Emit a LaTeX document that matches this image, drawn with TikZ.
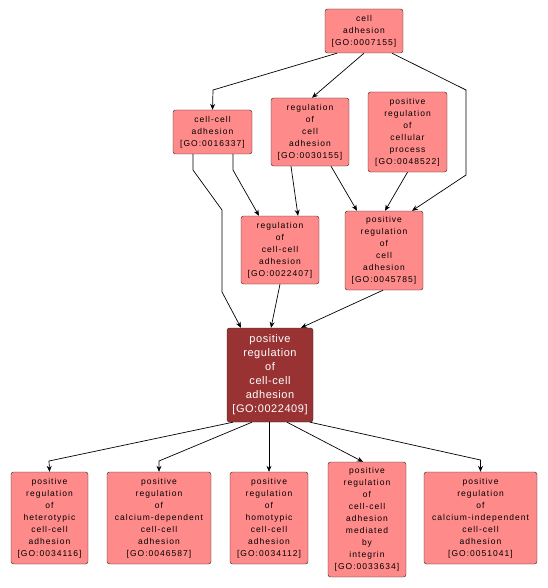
\documentclass[tikz,border=0pt]{standalone}
\usepackage{fontspec}
\usepackage{tikz}
\usetikzlibrary{arrows.meta}
\newfontfamily\gofont[LetterSpace=12]{Liberation Sans}
\newfontfamily\gomainfont[LetterSpace=5]{Liberation Sans}
\definecolor{goterm}{RGB}{255,138,138}
\definecolor{gofocus}{RGB}{153,51,51}
\tikzset{
  term/.style={draw=black!85,fill=goterm,rounded corners=2.5pt,align=center,inner sep=0pt,
    font=\gofont\fontsize{8.5}{12}\selectfont},
  focus/.style={term,fill=gofocus,text=white,font=\gomainfont\fontsize{11}{14}\selectfont},
  isa/.style={draw=black,line width=0.7pt,-{Stealth[length=6pt,width=5pt,inset=2pt]}}
}
\begin{document}
\begin{tikzpicture}[x=1pt,y=-1pt]
  \useasboundingbox (0,0) rectangle (547,588);
  % terms
  \node[term,minimum width=78pt,minimum height=44pt] (n7155) at (364,31) {cell\\adhesion\\{}[GO:0007155]};
  \node[term,minimum width=79pt,minimum height=44pt] (n16337) at (212.5,132) {cell-cell\\adhesion\\{}[GO:0016337]};
  \node[term,minimum width=78pt,minimum height=68pt] (n30155) at (310,132) {regulation\\of\\cell\\adhesion\\{}[GO:0030155]};
  \node[term,minimum width=79pt,minimum height=80pt] (n48522) at (407.5,132) {positive\\regulation\\of\\cellular\\process\\{}[GO:0048522]};
  \node[term,minimum width=78pt,minimum height=68pt] (n22407) at (280,250) {regulation\\of\\cell-cell\\adhesion\\{}[GO:0022407]};
  \node[term,minimum width=78pt,minimum height=79pt] (n45785) at (384,250.5) {positive\\regulation\\of\\cell\\adhesion\\{}[GO:0045785]};
  \node[focus,minimum width=86pt,minimum height=94pt] (n22409) at (270,375) {positive\\regulation\\of\\cell-cell\\adhesion\\{}[GO:0022409]};
  \node[term,minimum width=77pt,minimum height=92pt] (n34116) at (49.5,518) {positive\\regulation\\of\\heterotypic\\cell-cell\\adhesion\\{}[GO:0034116]};
  \node[term,minimum width=104pt,minimum height=92pt] (n46587) at (159,518) {positive\\regulation\\of\\calcium-dependent\\cell-cell\\adhesion\\{}[GO:0046587]};
  \node[term,minimum width=78pt,minimum height=92pt] (n34112) at (269,518) {positive\\regulation\\of\\homotypic\\cell-cell\\adhesion\\{}[GO:0034112]};
  \node[term,minimum width=78pt,minimum height=115pt] (n33634) at (367,519.5) {positive\\regulation\\of\\cell-cell\\adhesion\\mediated\\by\\integrin\\{}[GO:0033634]};
  \node[term,minimum width=113pt,minimum height=92pt] (n51041) at (480.5,518) {positive\\regulation\\of\\calcium-independent\\cell-cell\\adhesion\\{}[GO:0051041]};
  % bend points
  \coordinate (b1) at (213,90);
  \coordinate (b2) at (466,90);
  \coordinate (b3) at (466,175);
  \coordinate (b4) at (193,170);
  \coordinate (b5) at (222,210);
  \coordinate (b6) at (222,292);
  \coordinate (b7) at (233,170);
  \coordinate (b8) at (49,461);
  \coordinate (b9) at (159,461);
  \coordinate (b10) at (480.5,460);
  % edges
  \draw[isa] ([xshift=-27pt]n7155.south) -- (b1) -- (n16337.north);
  \draw[isa] (n7155.south) -- ([xshift=2pt]n30155.north);
  \draw[isa] ([xshift=28pt]n7155.south) -- (b2) -- (b3) -- ([xshift=28pt]n45785.north);
  \draw[isa] ([xshift=-19.5pt]n16337.south) -- (b4) -- (b5) -- (b6) -- ([xshift=-29pt]n22409.north);
  \draw[isa] ([xshift=20.5pt]n16337.south) -- (b7) -- ([xshift=-21pt]n22407.north);
  \draw[isa] ([xshift=-19pt]n30155.south) -- ([xshift=18pt]n22407.north);
  \draw[isa] ([xshift=21pt]n30155.south) -- ([xshift=-27pt]n45785.north);
  \draw[isa] (n48522.south) -- ([xshift=1pt]n45785.north);
  \draw[isa] (n22407.south) -- ([xshift=1pt]n22409.north);
  \draw[isa] ([xshift=-1pt]n45785.south) -- ([xshift=31pt]n22409.north);
  \draw[isa] ([xshift=-37pt]n22409.south) -- (b8) -- (n34116.north);
  \draw[isa] ([xshift=-18pt]n22409.south) -- (b9) -- (n46587.north);
  \draw[isa] ([xshift=-1pt]n22409.south) -- (n34112.north);
  \draw[isa] ([xshift=17pt]n22409.south) -- ([xshift=-4pt]n33634.north);
  \draw[isa] ([xshift=40pt]n22409.south) -- (b10) -- (n51041.north);
\end{tikzpicture}
\end{document}
